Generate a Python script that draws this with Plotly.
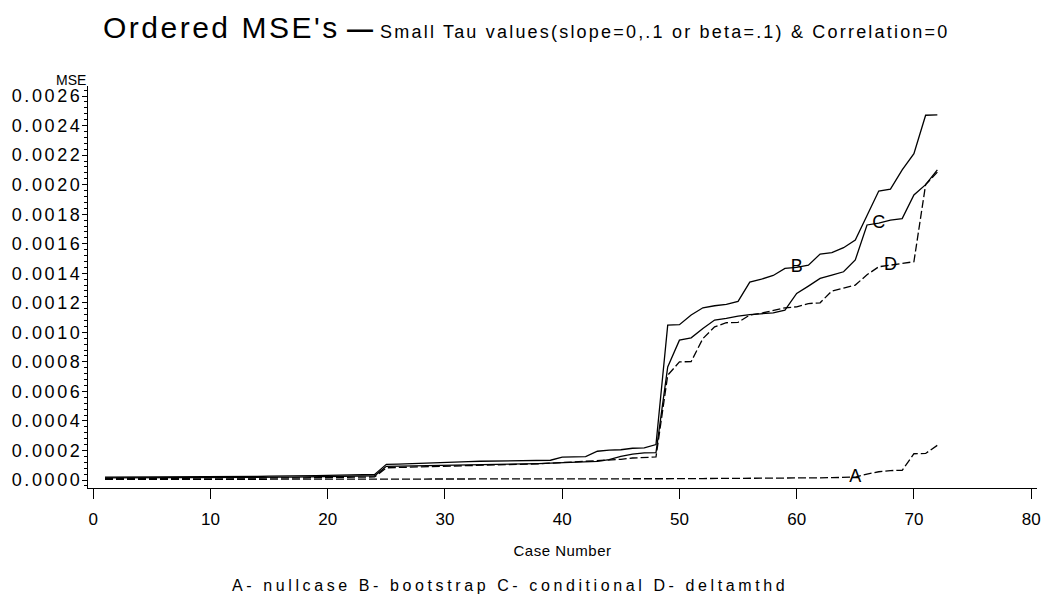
import plotly.graph_objects as go

cases = list(range(1, 73))

nullcase = [0.000004, 0.000004, 0.000004, 0.000004, 0.000004, 0.000004, 0.000004, 0.000004,
            0.000004, 0.000004, 0.000004, 0.000004, 0.000004, 0.000004, 0.000004, 0.000004,
            0.000004, 0.000004, 0.000004, 0.000004, 0.000004, 0.000004, 0.000004, 0.000004,
            0.000004, 0.000004, 0.000004, 0.000004, 0.000004, 0.000004, 0.000004, 0.000008,
            0.000008, 0.000008, 0.000008, 0.000008, 0.000008, 0.000009, 0.000009, 0.000009,
            0.000009, 0.000009, 0.000009, 0.000009, 0.000009, 0.000009, 0.000009, 0.000009,
            0.000009, 0.000009, 0.000009, 0.000010, 0.000010, 0.000010, 0.000010, 0.000010,
            0.000010, 0.000010, 0.000011, 0.000013, 0.000014, 0.000015, 0.000016, 0.000018,
            0.000020, 0.000040, 0.000056, 0.000064, 0.000066, 0.000178, 0.000180, 0.000235]

bootstrap = [0.000020, 0.000020, 0.000020, 0.000021, 0.000021, 0.000021, 0.000021, 0.000022,
             0.000022, 0.000022, 0.000023, 0.000023, 0.000024, 0.000024, 0.000026, 0.000028,
             0.000029, 0.000030, 0.000030, 0.000031, 0.000034, 0.000036, 0.000037, 0.000038,
             0.000106, 0.000108, 0.000110, 0.000112, 0.000114, 0.000117, 0.000120, 0.000124,
             0.000127, 0.000128, 0.000129, 0.000130, 0.000131, 0.000132, 0.000134, 0.000155,
             0.000156, 0.000158, 0.000195, 0.000203, 0.000205, 0.000215, 0.000218, 0.000240,
             0.001049, 0.001052, 0.001117, 0.001166, 0.001180, 0.001190, 0.001210, 0.001340,
             0.001360, 0.001385, 0.001433, 0.001440, 0.001455, 0.001530, 0.001540, 0.001573,
             0.001625, 0.001795, 0.001957, 0.001970, 0.002100, 0.002210, 0.002470, 0.002473]

conditional = [0.000014, 0.000014, 0.000015, 0.000015, 0.000015, 0.000015, 0.000016, 0.000016,
               0.000016, 0.000017, 0.000017, 0.000017, 0.000018, 0.000018, 0.000019, 0.000019,
               0.000020, 0.000021, 0.000022, 0.000023, 0.000025, 0.000027, 0.000028, 0.000029,
               0.000093, 0.000094, 0.000095, 0.000096, 0.000097, 0.000098, 0.000099, 0.000100,
               0.000101, 0.000102, 0.000103, 0.000105, 0.000108, 0.000111, 0.000114, 0.000117,
               0.000119, 0.000121, 0.000126, 0.000138, 0.000160, 0.000176, 0.000184, 0.000186,
               0.000766, 0.000947, 0.000963, 0.001026, 0.001083, 0.001094, 0.001110, 0.001120,
               0.001128, 0.001132, 0.001150, 0.001263, 0.001313, 0.001365, 0.001388, 0.001410,
               0.001490, 0.001727, 0.001740, 0.001760, 0.001770, 0.001930, 0.002000, 0.002100]

deltamthd = [0.000010, 0.000010, 0.000010, 0.000011, 0.000011, 0.000011, 0.000011, 0.000012,
             0.000012, 0.000012, 0.000012, 0.000013, 0.000013, 0.000013, 0.000014, 0.000014,
             0.000015, 0.000015, 0.000016, 0.000017, 0.000018, 0.000019, 0.000020, 0.000021,
             0.000083, 0.000085, 0.000087, 0.000089, 0.000090, 0.000092, 0.000094, 0.000096,
             0.000098, 0.000099, 0.000100, 0.000102, 0.000106, 0.000110, 0.000114, 0.000118,
             0.000121, 0.000124, 0.000128, 0.000132, 0.000140, 0.000149, 0.000153, 0.000156,
             0.000710, 0.000800, 0.000802, 0.000958, 0.001037, 0.001065, 0.001068, 0.001117,
             0.001130, 0.001150, 0.001166, 0.001173, 0.001195, 0.001200, 0.001280, 0.001300,
             0.001320, 0.001390, 0.001444, 0.001455, 0.001467, 0.001478, 0.002000, 0.002085]

series_names = ["nullcase", "bootstrap", "conditional", "deltamthd"]
series_letters = ["A", "B", "C", "D"]
label_cases = [65, 60, 67, 68]
series_dash = ["8px,3px", "solid", "solid", "8px,3px"]

x_ticks = [0, 10, 20, 30, 40, 50, 60, 70, 80]
y_ticks = [0.0000, 0.0002, 0.0004, 0.0006, 0.0008, 0.0010, 0.0012, 0.0014,
           0.0016, 0.0018, 0.0020, 0.0022, 0.0024, 0.0026]

FONT = "Liberation Sans"


def spaced(t, px):
    return "<span style='letter-spacing:%spx'>%s</span>" % (px, t)


fig = go.Figure()
for name, vals, letter, lc, dash in zip(series_names,
                                        [nullcase, bootstrap, conditional, deltamthd],
                                        series_letters, label_cases, series_dash):
    fig.add_trace(go.Scatter(x=cases, y=vals, mode="lines", name=name,
                             line=dict(color="black", width=1.3, dash=dash),
                             showlegend=False))
    fig.add_trace(go.Scatter(x=[cases[lc - 1]], y=[vals[lc - 1]], mode="text",
                             text=[letter], textposition="middle center",
                             textfont=dict(family=FONT, size=18, color="black"),
                             showlegend=False))

fig.update_layout(
    width=1053, height=601,
    margin=dict(l=87, r=13, t=86, b=113),
    paper_bgcolor="white", plot_bgcolor="white",
    font=dict(family=FONT, color="black"),
    xaxis=dict(range=[-0.45, 80.5], tickvals=x_ticks, ticktext=[str(v) for v in x_ticks],
               showgrid=False, zeroline=False, showline=True, linecolor="black",
               linewidth=1, ticks="outside", ticklen=10, tickcolor="black",
               tickfont=dict(family=FONT, size=17), ticklabelstandoff=6,
               title=dict(text=spaced("Case Number", 0.5), font=dict(family=FONT, size=15),
                          standoff=17)),
    yaxis=dict(range=[-0.000054, 0.002668], tickvals=y_ticks,
               ticktext=[spaced("%.4f" % v, 2.6) for v in y_ticks],
               showgrid=False, zeroline=False, showline=True, linecolor="black",
               linewidth=1, ticks="outside", ticklen=5, tickcolor="black",
               tickfont=dict(family=FONT, size=18), ticklabelstandoff=-4,
               minor=dict(ticks="outside", ticklen=3, dtick=0.00004, tickcolor="black",
                          showgrid=False)),
)

fig.add_annotation(xref="paper", yref="paper", x=0, y=1, xanchor="right", yanchor="bottom",
                   text="MSE", showarrow=False, font=dict(family=FONT, size=14), xshift=0, yshift=-4)

fig.add_annotation(xref="paper", yref="paper", x=0.462, y=1, xanchor="center", yanchor="bottom",
                   text="<span style='font-size:30px;letter-spacing:2.5px'>Ordered MSE's</span>"
                        "<span style='font-size:26px'> <b>\u2014</b></span>"
                        "<span style='font-size:18px;letter-spacing:2.2px'> Small Tau values(slope=0,.1 or beta=.1) &amp; Correlation=0</span>",
                   showarrow=False, font=dict(family=FONT), yshift=40)

fig.add_annotation(xref="paper", yref="paper", x=0.445, y=0, xanchor="center", yanchor="top",
                   text=spaced("A- nullcase B- bootstrap C- conditional D- deltamthd", 3.6),
                   showarrow=False, font=dict(family=FONT, size=16), yshift=-87)

fig.write_html("out.html")
